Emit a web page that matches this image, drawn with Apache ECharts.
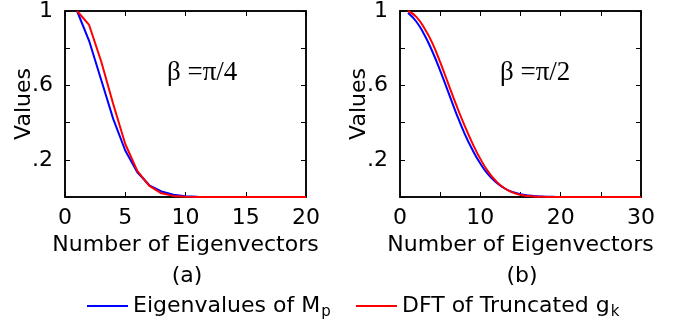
<!DOCTYPE html>
<html><head><meta charset="utf-8">
<script src="https://cdn.jsdelivr.net/npm/echarts@6/dist/echarts.min.js"></script>
<style>html,body{margin:0;padding:0;background:#fff}#c{width:686px;height:332px}</style>
</head><body><div id="c"></div>
<script>
// Panel (a): beta = pi/4, eigenvector index 1..20
const xA = [1,2,3,4,5,6,7,8,9,10,11,12,13,14,15,16,17,18,19,20];
const blueA = [1.0,0.84,0.63,0.42,0.25,0.133,0.063,0.03,0.012,0.004,0.001,0,0,0,0,0,0,0,0,0];
const redA  = [1.0,0.925,0.73,0.50,0.285,0.14,0.06,0.02,0.006,0.001,0,0,0,0,0,0,0,0,0,0];
// Panel (b): beta = pi/2, eigenvector index 1..30
const xB = [1,2,3,4,5,6,7,8,9,10,11,12,13,14,15,16,17,18,19,20,21,22,23,24,25,26,27,28,29,30];
const blueB = [0.99,0.945,0.875,0.785,0.68,0.565,0.45,0.345,0.255,0.18,0.12,0.078,0.047,0.027,0.015,0.008,0.004,0.002,0.001,0,0,0,0,0,0,0,0,0,0,0];
const redB  = [1.0,0.97,0.91,0.83,0.725,0.61,0.495,0.388,0.29,0.205,0.135,0.083,0.047,0.025,0.012,0.005,0.002,0.001,0,0,0,0,0,0,0,0,0,0,0,0];
const yTickLabels = {2:'.2', 6:'.6', 10:'1'};
const nameBlue = 'Eigenvalues of M_p';
const nameRed = 'DFT of Truncated g_k';

const FONT = 'DejaVu Sans';
const FS = 22;
const pair = (xs, ys) => xs.map((x,i)=>[x, ys[i]]);
const AX_LINE = {show:true, onZero:false, lineStyle:{color:'#000', width:1.5}};
const AX_TICK = {show:true, inside:true, length:5, lineStyle:{color:'#000'}};

function xAxisMain(gi, max, labelStep){
  return {type:'value', gridIndex:gi, position:'bottom', min:0, max:max, interval:5,
    axisLine:AX_LINE, axisTick:AX_TICK, splitLine:{show:false},
    axisLabel:{color:'#000', fontFamily:FONT, fontSize:FS, margin:10,
      formatter:v=> (Math.round(v)%labelStep===0 ? String(Math.round(v)) : '')},
    name:'Number of Eigenvectors', nameLocation:'middle', nameGap:37,
    nameTextStyle:{color:'#000', fontFamily:FONT, fontSize:FS}};
}
function xAxisTop(gi, max){
  return {type:'value', gridIndex:gi, position:'top', min:0, max:max, interval:5,
    axisLine:AX_LINE, axisTick:AX_TICK, axisLabel:{show:false}, splitLine:{show:false}};
}
function yAxisMain(gi){
  return {type:'value', gridIndex:gi, position:'left', min:0, max:1, interval:0.2,
    axisLine:AX_LINE, axisTick:AX_TICK, splitLine:{show:false},
    axisLabel:{color:'#000', fontFamily:FONT, fontSize:FS, margin:12,
      formatter:v=> yTickLabels[Math.round(v*10)] || ''},
    name:'Values', nameLocation:'middle', nameGap:30, nameRotate:90, nameMoveOverlap:false,
    nameTextStyle:{color:'#000', fontFamily:FONT, fontSize:FS}};
}
function yAxisRight(gi){
  return {type:'value', gridIndex:gi, position:'right', min:0, max:1, interval:0.2,
    axisLine:AX_LINE, axisTick:AX_TICK, axisLabel:{show:false}, splitLine:{show:false}};
}
function line(name, color, xi, yi, data, smooth){
  return {type:'line', name:name, xAxisIndex:xi, yAxisIndex:yi, data:data,
    symbol:'none', smooth:smooth, lineStyle:{color:color, width:2}, itemStyle:{color:color},
    animation:false, z:3};
}
function frame(xi, yi){
  return {type:'line', name:'frame'+xi, xAxisIndex:xi, yAxisIndex:yi, data:[],
    symbol:'none', silent:true, lineStyle:{opacity:0}};
}
const legendFmt = n => n.replace(/_(\w)/, '{s|$1}');
const legendRich = {s:{fontFamily:FONT, fontSize:15, verticalAlign:'bottom', padding:[13,0,0,1], color:'#000'}};

const chart = echarts.init(document.getElementById('c'), null, {renderer:'canvas'});
chart.setOption({
  animation:false,
  backgroundColor:'#fff',
  grid:[
    {left:65, top:7, width:241, height:190, show:true, borderColor:'#000', borderWidth:1.5, backgroundColor:'transparent'},
    {left:400, top:7, width:241, height:190, show:true, borderColor:'#000', borderWidth:1.5, backgroundColor:'transparent'}
  ],
  xAxis:[xAxisMain(0,20,5), xAxisMain(1,30,10), xAxisTop(0,20), xAxisTop(1,30)],
  yAxis:[yAxisMain(0), yAxisMain(1), yAxisRight(0), yAxisRight(1)],
  legend:[
    {data:[nameBlue], left:87, top:295, padding:0, icon:'rect', itemWidth:41, itemHeight:2, itemGap:8,
     formatter:legendFmt, textStyle:{fontFamily:FONT, fontSize:FS, color:'#000', rich:legendRich}},
    {data:[nameRed], left:356, top:295, padding:0, icon:'rect', itemWidth:41, itemHeight:2, itemGap:6,
     formatter:legendFmt, textStyle:{fontFamily:FONT, fontSize:FS, color:'#000', rich:legendRich}}
  ],
  series:[
    line(nameBlue,'#0000ff',0,0,pair(xA,blueA),false),
    line(nameRed,'#ff0000',0,0,pair(xA,redA),false),
    line(nameBlue,'#0000ff',1,1,pair(xB,blueB),true),
    line(nameRed,'#ff0000',1,1,pair(xB,redB),true),
    frame(2,2), frame(3,3)
  ],
  graphic:[
    {type:'text', x:167, y:73, style:{text:'β =π/4', font:'27px "Liberation Serif", serif', fill:'#000', verticalAlign:'middle'}},
    {type:'text', x:500, y:73, style:{text:'β =π/2', font:'27px "Liberation Serif", serif', fill:'#000', verticalAlign:'middle'}},
    {type:'text', x:187, y:276, style:{text:'(a)', font:FS+'px "DejaVu Sans"', fill:'#000', align:'center', verticalAlign:'middle'}},
    {type:'text', x:522, y:276, style:{text:'(b)', font:FS+'px "DejaVu Sans"', fill:'#000', align:'center', verticalAlign:'middle'}}
  ]
});
</script></body></html>
